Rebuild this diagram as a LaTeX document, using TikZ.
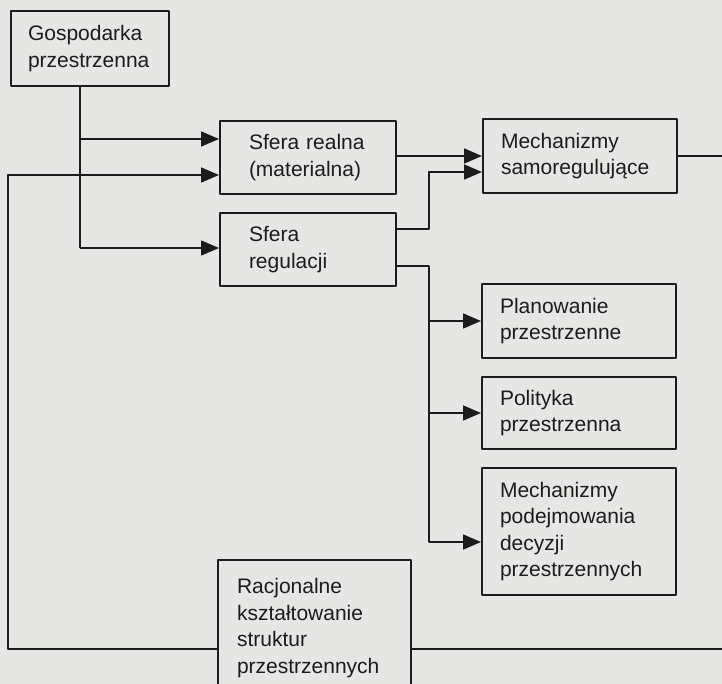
\documentclass[tikz,border=0pt]{standalone}
\usepackage{fontspec}
\setmainfont{Liberation Sans}
\usetikzlibrary{arrows.meta}
\definecolor{scan}{RGB}{230,230,228}
\definecolor{ink}{RGB}{28,28,28}
\begin{document}
\begin{tikzpicture}[x=1pt, y=-1pt, line join=round, >={Triangle[length=18pt,width=15pt]},
	font=\fontsize{21}{26.5}\selectfont,
	box/.style={draw=ink, line width=2pt, text=ink, align=left, anchor=north west, inner ysep=0pt},
	link/.style={draw=ink, line width=1.7pt}]
	\def\xmin{0} \def\xmax{722}
	\def\ymin{0} \def\ymax{684}
	\fill[scan] (\xmin,\ymin) rectangle (\xmax,\ymax);
	\useasboundingbox (\xmin,\ymin) rectangle (\xmax,\ymax);
	\clip (\xmin,\ymin) rectangle (\xmax,\ymax);
	% boxes
	\node[box, text width=124pt, inner xsep=17pt, minimum height=75pt] (gosp) at (10,10) {Gospodarka\\przestrzenna};
	\node[box, text width=118pt, inner xsep=29pt, minimum height=73pt] (real) at (219,120) {Sfera realna\\(materialna)};
	\node[box, text width=118pt, inner xsep=29pt, minimum height=73pt] (regul) at (219,212) {Sfera\\regulacji};
	\node[box, text width=158pt, inner xsep=18pt, minimum height=74pt] (samo) at (482,118) {Mechanizmy\\samoregulujące};
	\node[box, text width=158pt, inner xsep=18pt, minimum height=74pt] (plan) at (481,283) {Planowanie\\przestrzenne};
	\node[box, text width=158pt, inner xsep=18pt, minimum height=72pt] (polit) at (481,376) {Polityka\\przestrzenna};
	\node[box, text width=158pt, inner xsep=18pt, minimum height=127pt] (decyz) at (481,467) {Mechanizmy\\podejmowania\\decyzji\\przestrzennych};
	\node[box, text width=155pt, inner xsep=19pt, minimum height=136pt] (racj) at (217,559) {Racjonalne\\kształtowanie\\struktur\\przestrzennych};
	% corners
	\coordinate (gsp) at (80,139);
	\coordinate (gsp2) at (80,248);
	\coordinate (lp) at (8,175);
	\coordinate (lb) at (8,649);
	\coordinate (rj) at (429,229);
	\coordinate (rj2) at (429,172);
	\coordinate (rk) at (429,266);
	\coordinate (rk2) at (429,542);
	\coordinate (edge) at (\xmax,0);
	% connectors
	\draw[link] (gosp.south -| gsp) -- (gsp2);
	\draw[link,->] (gsp) -- (gsp -| real.west);
	\draw[link,->] (gsp2) -- (gsp2 -| regul.west);
	\draw[link,->] (lb -| racj.west) -- (lb) -- (lp) -- (lp -| real.west);
	\draw[link,->] (samo.west -| real.east) -- (samo.west);
	\draw[link,->] (rj -| regul.east) -- (rj) -- (rj2) -- (rj2 -| samo.west);
	\draw[link,->] (rk -| regul.east) -- (rk) -- (rk2) -- (rk2 -| decyz.west);
	\draw[link,->] (rk |- plan.west) -- (plan.west);
	\draw[link,->] (rk |- polit.west) -- (polit.west);
	\draw[link] (samo.east) -- (samo.east -| edge);
	\draw[link] (lb -| racj.east) -- (lb -| edge);
\end{tikzpicture}
\end{document}
